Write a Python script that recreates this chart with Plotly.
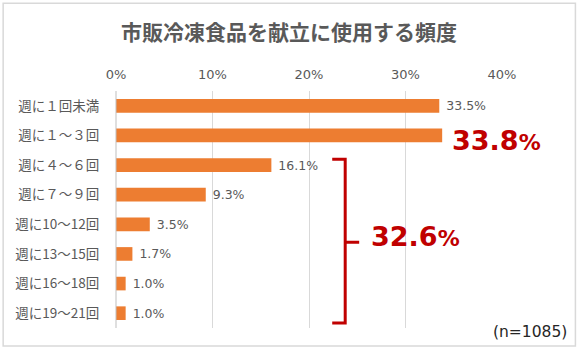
import plotly.graph_objects as go

categories = ["週に１回未満", "週に１～３回", "週に４～６回", "週に７～９回",
              "週に10～12回", "週に13～15回", "週に16～18回", "週に19～21回"]
values = [33.5, 33.8, 16.1, 9.3, 3.5, 1.7, 1.0, 1.0]
labels = ["33.5%", "", "16.1%", "9.3%", "3.5%", "1.7%", "1.0%", "1.0%"]
tick_vals = [0, 10, 20, 30, 40]
tick_text = ["0%", "10%", "20%", "30%", "40%"]
title_text = "市販冷凍食品を献立に使用する頻度"
highlight_num = "33.8"
group_num = "32.6"
n_text = "(n=1085)"

FONT = "Noto Sans CJK JP"
NUM = "DejaVu Sans"
GREY = "#595959"
RED = "#C00000"

W, H = 580, 353
L, R, T, B = 115.5, 502, 90.5, 328

def px(x):
    return (x - L) / (R - L)

def py(y):
    return (B - y) / (B - T)

fig = go.Figure(go.Bar(
    x=values, y=categories, orientation="h",
    marker=dict(color="#ED7D31", line=dict(width=0)),
    width=0.46,
    text=[" " + t if t else "" for t in labels],
    textposition="outside", cliponaxis=False, constraintext="none",
    textfont=dict(family=NUM, size=12.5, color=GREY),
    hoverinfo="skip",
))

fig.update_layout(
    width=W, height=H,
    margin=dict(l=L, r=W - R, t=T, b=H - B),
    paper_bgcolor="white", plot_bgcolor="white",
    showlegend=False,
    font=dict(family=FONT, color=GREY),
    title=dict(text="<b>" + title_text + "</b>", x=289 / W, xanchor="center",
               y=1 - 33 / H, yanchor="middle",
               font=dict(family=FONT, size=21, color=GREY)),
    xaxis=dict(range=[0, 40], side="top", tickvals=tick_vals, ticktext=tick_text,
               showgrid=True, gridcolor="#D9D9D9", gridwidth=1,
               zeroline=False, showline=False, ticks="", ticklabelstandoff=8,
               tickfont=dict(family=NUM, size=13, color=GREY),
               fixedrange=True),
    yaxis=dict(categoryorder="array", categoryarray=categories, autorange="reversed",
               showgrid=False, zeroline=False, showline=False, ticks="outside",
               ticklen=13, tickcolor="rgba(0,0,0,0)",
               tickfont=dict(family=FONT, size=13.5, color=GREY),
               fixedrange=True),
    bargap=0.54,
)

# 0% axis line
fig.add_shape(type="line", xref="paper", yref="paper", x0=0, x1=0, y0=0, y1=1,
              line=dict(color="#BFBFBF", width=1))

# outer frame
fig.add_shape(type="rect", xref="paper", yref="paper",
              x0=px(2.5), x1=px(575.5), y0=py(346), y1=py(2.5),
              line=dict(color="#D9D9D9", width=1.5), layer="below")

# bracket
x_left, x_mid, x_tip = px(332), px(345), px(359)
y_top, y_bot, y_mid = py(159), py(323), py(242)
path = (f"M {x_left},{y_top} L {x_mid},{y_top} L {x_mid},{y_bot} L {x_left},{y_bot} "
        f"M {x_mid},{y_mid} L {x_tip},{y_mid}")
fig.add_shape(type="path", xref="paper", yref="paper", path=path,
              line=dict(color=RED, width=3))

def big(num):
    return f"<b>{num}<span style='font-size:22px'>%</span></b>"

fig.add_annotation(xref="paper", yref="paper", x=px(450), y=py(140),
                   xanchor="left", yanchor="middle", showarrow=False,
                   text=big(highlight_num),
                   font=dict(family=NUM, size=27, color=RED))
fig.add_annotation(xref="paper", yref="paper", x=px(369), y=py(236),
                   xanchor="left", yanchor="middle", showarrow=False,
                   text=big(group_num),
                   font=dict(family=NUM, size=27, color=RED))
fig.add_annotation(xref="paper", yref="paper", x=px(569), y=py(332),
                   xanchor="right", yanchor="middle", showarrow=False,
                   text=n_text, font=dict(family=NUM, size=15.5, color="#262626"))

fig.write_html("out.html")
